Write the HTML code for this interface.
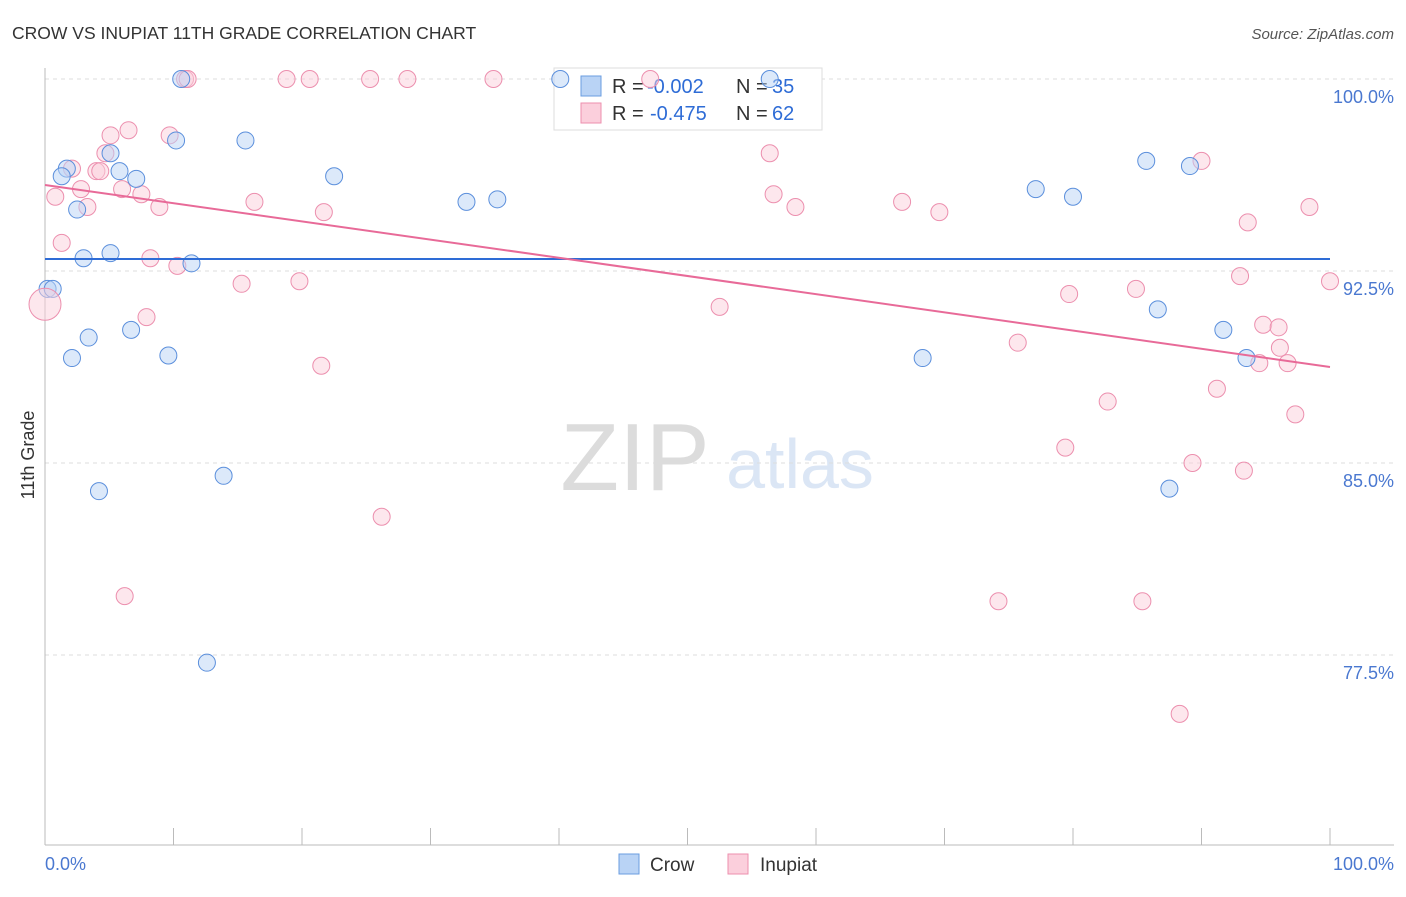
<!DOCTYPE html>
<html><head><meta charset="utf-8"><style>
body{margin:0;background:#fff;font-family:"Liberation Sans",sans-serif}
svg text{font-family:"Liberation Sans",sans-serif}
</style></head><body>
<svg id="c" width="1406" height="892" xmlns="http://www.w3.org/2000/svg">
<text x="12" y="39" font-size="17.5" fill="#333">CROW VS INUPIAT 11TH GRADE CORRELATION CHART</text>
<text x="1394" y="39" font-size="15" fill="#555" text-anchor="end" font-style="italic">Source: ZipAtlas.com</text>
<text x="635" y="490" font-size="96" fill="#dcdcdc" font-family="Liberation Serif" text-anchor="middle">ZIP</text>
<text x="800" y="488" font-size="70" fill="#dbe6f5" text-anchor="middle">atlas</text>
<g id="grid"></g>
<g>
<rect x="554" y="68" width="268" height="62" fill="#fff" stroke="#ddd"/>
<rect x="581" y="76" width="20" height="20" fill="#b9d3f5" stroke="#6a9de0"/>
<rect x="581" y="103" width="20" height="20" fill="#fbcfdc" stroke="#ec8fae"/>
<text x="612" y="93" font-size="20" fill="#333">R =</text><text x="647" y="93" font-size="20" fill="#2e6cd6">-0.002</text>
<text x="736" y="93" font-size="20" fill="#333">N =</text><text x="772" y="93" font-size="20" fill="#2e6cd6">35</text>
<text x="612" y="120" font-size="20" fill="#333">R =</text><text x="650" y="120" font-size="20" fill="#2e6cd6">-0.475</text>
<text x="736" y="120" font-size="20" fill="#333">N =</text><text x="772" y="120" font-size="20" fill="#2e6cd6">62</text>
</g>
<g id="marks"></g>
<text x="34" y="455" font-size="18" fill="#333" transform="rotate(-90 34 455)" text-anchor="middle">11th Grade</text>
<text x="45" y="870" font-size="18" fill="#4a78d0">0.0%</text>
<text x="1394" y="870" font-size="18" fill="#4a78d0" text-anchor="end">100.0%</text>
<g>
<rect x="619" y="854" width="20" height="20" fill="#b9d3f5" stroke="#6a9de0"/>
<text x="650" y="871" font-size="19" fill="#333">Crow</text>
<rect x="728" y="854" width="20" height="20" fill="#fbcfdc" stroke="#ec8fae"/>
<text x="760" y="871" font-size="19" fill="#333">Inupiat</text>
</g>
</svg>
<script>
const yTicks=[100,92.5,85,77.5];
const yTickLabels=["100.0%","92.5%","85.0%","77.5%"];
const crowX=[10.6,40.1,56.4,10.2,15.6,5.1,1.7,1.3,5.8,7.1,22.5,2.5,32.8,35.2,77.1,80,85.7,89.1,5.1,3,11.4,0.2,0.6,3.4,6.7,2.1,9.6,68.3,86.6,91.7,93.5,4.2,13.9,87.5,12.6];
const crowY=[100,100,100,97.6,97.6,97.1,96.5,96.2,96.4,96.1,96.2,94.9,95.2,95.3,95.7,95.4,96.8,96.6,93.2,93,92.8,91.8,91.8,89.9,90.2,89.1,89.2,89.1,91,90.2,89.1,83.9,84.5,84,77.2];
const crowTrend=[92.97,92.97];
const inuX=[10.9,11.1,18.8,20.6,25.3,28.2,34.9,47.1,6.5,5.1,9.7,4.7,56.4,2.1,4,4.3,90,2.8,6,7.5,0.8,3.3,8.9,16.3,21.7,56.7,58.4,66.7,69.6,93.6,98.4,1.3,8.2,10.3,15.3,19.8,7.9,100,93,79.7,84.9,52.5,75.7,94.8,96,96.1,94.5,96.7,21.5,82.7,91.2,97.3,79.4,89.3,93.3,26.2,6.2,74.2,85.4,88.3];
const inuY=[100,100,100,100,100,100,100,100,98,97.8,97.8,97.1,97.1,96.5,96.4,96.4,96.8,95.7,95.7,95.5,95.4,95,95,95.2,94.8,95.5,95,95.2,94.8,94.4,95,93.6,93,92.7,92,92.1,90.7,92.1,92.3,91.6,91.8,91.1,89.7,90.4,90.3,89.5,88.9,88.9,88.8,87.4,87.9,86.9,85.6,85,84.7,82.9,79.8,79.6,79.6,75.2];
const inuTrend=[95.86,88.75];
const X=v=>45+v/100*1285, Y=v=>79+(100-v)*25.6;
const ns="http://www.w3.org/2000/svg";
function mk(t,a,p){const e=document.createElementNS(ns,t);for(const k in a)e.setAttribute(k,a[k]);p.appendChild(e);return e;}
const g=document.getElementById('grid'),m=document.getElementById('marks');
yTicks.forEach((t,i)=>{
 const l=mk('line',{x1:45,x2:1394,y1:Y(t),y2:Y(t),stroke:'#ddd','stroke-dasharray':'4,4'},g);
 
 
 const tx=mk('text',{x:1394,y:Y(t)+24,'font-size':18,fill:'#4a78d0','text-anchor':'end'},g);tx.textContent=yTickLabels[i];
 
 
});
mk('line',{x1:45,x2:45,y1:68,y2:845,stroke:'#bbb'},g);
mk('line',{x1:45,x2:1394,y1:845,y2:845,stroke:'#bbb'},g);
for(let i=0;i<=10;i++){const t=mk('line',{x1:X(i*10),x2:X(i*10),y1:828,y2:845,stroke:'#bbb'},g);
 
 }
function pts(xs,ys,f,s,name){xs.forEach((x,i)=>{const c=mk('circle',{cx:X(x),cy:Y(ys[i]),r:8.5,fill:f,'fill-opacity':0.5,stroke:s,'stroke-width':1},m);
 
 });}
pts(inuX,inuY,'#fbcfdc','#ec8fae','inupiat-point');
pts(crowX,crowY,'#b9d3f5','#5b8fdc','crow-point');
const big=mk('circle',{cx:X(0),cy:Y(91.2),r:16,fill:'#fbcfdc','fill-opacity':0.5,stroke:'#ec8fae'},m);


const l1=mk('line',{x1:X(0),x2:X(100),y1:Y(crowTrend[0]),y2:Y(crowTrend[1]),stroke:'#2e6cd6','stroke-width':2},m);


const l2=mk('line',{x1:X(0),x2:X(100),y1:Y(inuTrend[0]),y2:Y(inuTrend[1]),stroke:'#e86a98','stroke-width':2},m);


</script>
</body></html>
